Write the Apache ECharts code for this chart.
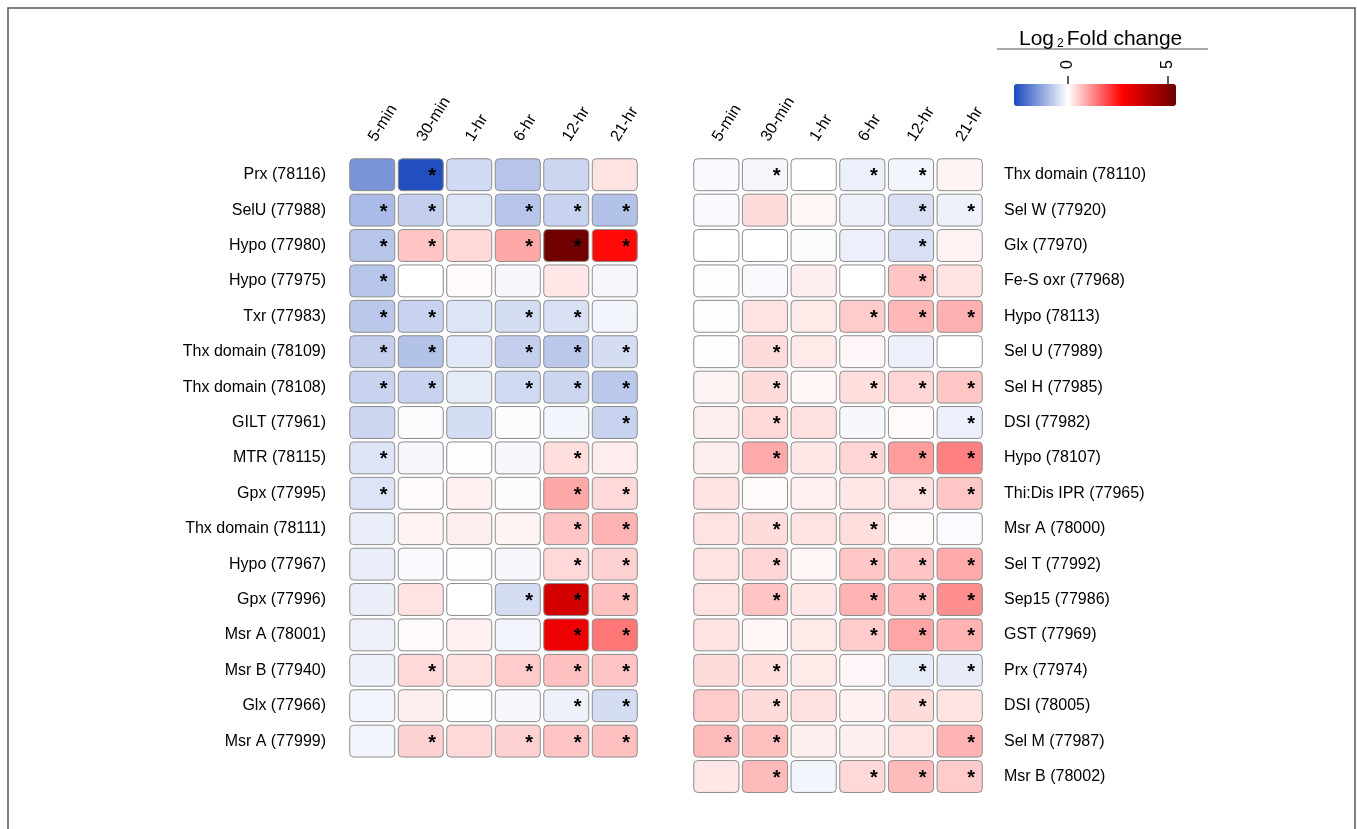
<!DOCTYPE html>
<html>
<head>
<meta charset="utf-8">
<script src="https://cdn.jsdelivr.net/npm/echarts@6/dist/echarts.min.js"></script>
<style>
  html, body { margin: 0; padding: 0; background: #fff; }
  #main { width: 1357px; height: 829px; }
</style>
</head>
<body>
<div id="main"></div>
<script>
// time points (same for both panels)
var timePoints = ["5-min", "30-min", "1-hr", "6-hr", "12-hr", "21-hr"];

// left panel
var leftGenes = [
  "Prx (78116)", "SelU (77988)", "Hypo (77980)", "Hypo (77975)", "Txr (77983)",
  "Thx domain (78109)", "Thx domain (78108)", "GILT (77961)", "MTR (78115)",
  "Gpx (77995)", "Thx domain (78111)", "Hypo (77967)", "Gpx (77996)",
  "Msr A (78001)", "Msr B (77940)", "Glx (77966)", "Msr A (77999)"
];
var leftFold = [
  [-1.55, -2.6, -0.55, -0.85, -0.6, 0.3],
  [-1.0, -0.7, -0.4, -0.85, -0.65, -0.9],
  [-0.85, 0.63, 0.4, 0.92, 5.3, 2.6],
  [-0.85, 0.0, 0.05, -0.1, 0.25, -0.12],
  [-0.8, -0.65, -0.4, -0.5, -0.45, -0.15],
  [-0.7, -0.9, -0.35, -0.7, -0.8, -0.5],
  [-0.65, -0.65, -0.3, -0.55, -0.6, -0.8],
  [-0.6, -0.05, -0.5, -0.05, -0.15, -0.65],
  [-0.4, -0.12, 0.02, -0.1, 0.35, 0.2],
  [-0.4, 0.05, 0.15, -0.05, 0.92, 0.4],
  [-0.25, 0.13, 0.18, 0.12, 0.63, 0.8],
  [-0.25, -0.07, 0.02, -0.1, 0.4, 0.48],
  [-0.25, 0.3, 0.0, -0.5, 3.5, 0.67],
  [-0.2, 0.05, 0.15, -0.15, 3.0, 1.45],
  [-0.2, 0.4, 0.33, 0.55, 0.67, 0.63],
  [-0.15, 0.18, 0.02, -0.1, -0.2, -0.5],
  [-0.15, 0.48, 0.4, 0.48, 0.63, 0.67]
];
var leftSig = [
  [0, 1, 0, 0, 0, 0],
  [1, 1, 0, 1, 1, 1],
  [1, 1, 0, 1, 1, 1],
  [1, 0, 0, 0, 0, 0],
  [1, 1, 0, 1, 1, 0],
  [1, 1, 0, 1, 1, 1],
  [1, 1, 0, 1, 1, 1],
  [0, 0, 0, 0, 0, 1],
  [1, 0, 0, 0, 1, 0],
  [1, 0, 0, 0, 1, 1],
  [0, 0, 0, 0, 1, 1],
  [0, 0, 0, 0, 1, 1],
  [0, 0, 0, 1, 1, 1],
  [0, 0, 0, 0, 1, 1],
  [0, 1, 0, 1, 1, 1],
  [0, 0, 0, 0, 1, 1],
  [0, 1, 0, 1, 1, 1]
];

// right panel
var rightGenes = [
  "Thx domain (78110)", "Sel W (77920)", "Glx (77970)", "Fe-S oxr (77968)",
  "Hypo (78113)", "Sel U (77989)", "Sel H (77985)", "DSI (77982)",
  "Hypo (78107)", "Thi:Dis IPR (77965)", "Msr A (78000)", "Sel T (77992)",
  "Sep15 (77986)", "GST (77969)", "Prx (77974)", "DSI (78005)",
  "Sel M (77987)", "Msr B (78002)"
];
var rightFold = [
  [-0.08, -0.13, 0.0, -0.22, -0.14, 0.12],
  [-0.08, 0.37, 0.1, -0.2, -0.45, -0.2],
  [0.0, 0.0, -0.05, -0.22, -0.45, 0.14],
  [0.03, -0.08, 0.18, 0.0, 0.63, 0.3],
  [0.02, 0.3, 0.22, 0.55, 0.75, 0.83],
  [0.02, 0.37, 0.22, 0.08, -0.22, 0.0],
  [0.12, 0.37, 0.1, 0.35, 0.45, 0.6],
  [0.18, 0.4, 0.33, -0.1, 0.05, -0.22],
  [0.18, 0.9, 0.25, 0.45, 1.05, 1.35],
  [0.3, 0.05, 0.15, 0.25, 0.33, 0.6],
  [0.3, 0.37, 0.3, 0.35, 0.05, -0.06],
  [0.3, 0.45, 0.1, 0.6, 0.63, 0.9],
  [0.3, 0.63, 0.25, 0.8, 0.75, 1.2],
  [0.3, 0.1, 0.22, 0.55, 0.95, 0.8],
  [0.37, 0.35, 0.22, 0.08, -0.3, -0.28],
  [0.55, 0.37, 0.33, 0.15, 0.37, 0.3],
  [0.72, 0.67, 0.18, 0.18, 0.3, 0.8],
  [0.25, 0.72, -0.15, 0.4, 0.72, 0.55]
];
var rightSig = [
  [0, 1, 0, 1, 1, 0],
  [0, 0, 0, 0, 1, 1],
  [0, 0, 0, 0, 1, 0],
  [0, 0, 0, 0, 1, 0],
  [0, 0, 0, 1, 1, 1],
  [0, 1, 0, 0, 0, 0],
  [0, 1, 0, 1, 1, 1],
  [0, 1, 0, 0, 0, 1],
  [0, 1, 0, 1, 1, 1],
  [0, 0, 0, 0, 1, 1],
  [0, 1, 0, 1, 0, 0],
  [0, 1, 0, 1, 1, 1],
  [0, 1, 0, 1, 1, 1],
  [0, 0, 0, 1, 1, 1],
  [0, 1, 0, 0, 1, 1],
  [0, 1, 0, 0, 1, 0],
  [1, 1, 0, 0, 0, 1],
  [0, 1, 0, 1, 1, 1]
];

// colour scale
var foldMin = -2.7;
var foldMax = 5.4;
var scaleTicks = [0, 5];

var FONT = "'Liberation Sans', Arial, sans-serif";

function toCells(fold, sig) {
  var out = [];
  for (var r = 0; r < fold.length; r++) {
    for (var c = 0; c < fold[r].length; c++) {
      out.push([c, r, fold[r][c], sig[r][c]]);
    }
  }
  return out;
}

function renderCell(params, api) {
  var p = api.coord([api.value(0), api.value(1)]);
  var s = api.size([1, 1]);
  var w = s[0] - 3.5, h = s[1] - 3.5;
  var kids = [{
    type: "rect",
    shape: { x: p[0] - w / 2, y: p[1] - h / 2, width: w, height: h, r: 4 },
    style: { fill: api.visual("color"), stroke: "#8c8c8c", lineWidth: 1 }
  }];
  if (api.value(3)) {
    kids.push({
      type: "text",
      style: {
        text: "*", x: p[0] + w / 2 - 11, y: p[1] + 2,
        align: "center", verticalAlign: "middle",
        font: "bold 20px " + FONT, fill: "#000"
      }
    });
  }
  return { type: "group", children: kids };
}

var catAxisX = function (gi) {
  return {
    type: "category", gridIndex: gi, data: timePoints, position: "top",
    axisLine: { show: false }, axisTick: { show: false }, splitLine: { show: false },
    axisLabel: { rotate: -58, margin: 17, fontSize: 16, color: "#000", fontFamily: FONT, interval: 0 }
  };
};

var myChart = echarts.init(document.getElementById("main"));
myChart.setOption({
  animation: false,
  title: {
    text: "{a|Log}{s|2}{a|Fold change}",
    left: 1014, top: 24,
    textStyle: {
      rich: {
        a: { fontSize: 21, fontWeight: "normal", fontFamily: FONT, color: "#000" },
        s: { fontSize: 12, fontWeight: "normal", fontFamily: FONT, color: "#000", verticalAlign: "bottom", padding: [0, 3, 0, 3] }
      }
    }
  },
  grid: [
    { left: 348, top: 157, width: 291, height: 17 * 35.4 },
    { left: 692, top: 157, width: 292, height: 18 * 35.4 },
    { left: 1014, top: 84, width: 162, height: 22 }
  ],
  xAxis: [
    catAxisX(0),
    catAxisX(1),
    {
      type: "value", gridIndex: 2, min: foldMin, max: foldMax, position: "top", z: 10,
      axisLine: { show: false }, splitLine: { show: false },
      axisTick: { show: false },
      axisLabel: { customValues: scaleTicks, rotate: 90, margin: 15, fontSize: 16, color: "#000", fontFamily: FONT }
    }
  ],
  yAxis: [
    {
      type: "category", gridIndex: 0, data: leftGenes, inverse: true,
      axisLine: { show: false }, axisTick: { show: false }, splitLine: { show: false },
      axisLabel: { margin: 22, fontSize: 16, color: "#000", fontFamily: FONT }
    },
    {
      type: "category", gridIndex: 1, data: rightGenes, inverse: true, position: "right",
      axisLine: { show: false }, axisTick: { show: false }, splitLine: { show: false },
      axisLabel: { margin: 20, fontSize: 16, color: "#000", fontFamily: FONT }
    },
    { type: "value", gridIndex: 2, min: 0, max: 1, show: false }
  ],
  visualMap: {
    type: "continuous", seriesIndex: [0, 1], dimension: 2,
    min: foldMin, max: foldMax, orient: "horizontal",
    left: 1014, top: 84, itemWidth: 22, itemHeight: 162, padding: 0,
    calculable: false, showLabel: false, text: null, hoverLink: false,
    inRange: { color: ["#1a47bd", "#ffffff", "#ff0000", "#6b0000"] }
  },
  graphic: [
    { type: "rect", shape: { x: 8, y: 8, width: 1347, height: 840 },
      style: { fill: "none", stroke: "#555", lineWidth: 1.5 }, silent: true },
    { type: "line", shape: { x1: 997, y1: 49, x2: 1208, y2: 49 },
      style: { stroke: "#aaa", lineWidth: 2 }, silent: true }
  ],
  series: [
    { type: "custom", xAxisIndex: 0, yAxisIndex: 0, renderItem: renderCell,
      encode: { x: 0, y: 1 }, data: toCells(leftFold, leftSig) },
    { type: "custom", xAxisIndex: 1, yAxisIndex: 1, renderItem: renderCell,
      encode: { x: 0, y: 1 }, data: toCells(rightFold, rightSig) },
    // tick marks above the colour bar
    { type: "scatter", xAxisIndex: 2, yAxisIndex: 2, silent: true,
      symbol: "rect", symbolSize: [1.6, 8], symbolOffset: [0, -4],
      itemStyle: { color: "#000" },
      data: scaleTicks.map(function (v) { return [v, 1]; }) }
  ]
});
</script>
</body>
</html>
